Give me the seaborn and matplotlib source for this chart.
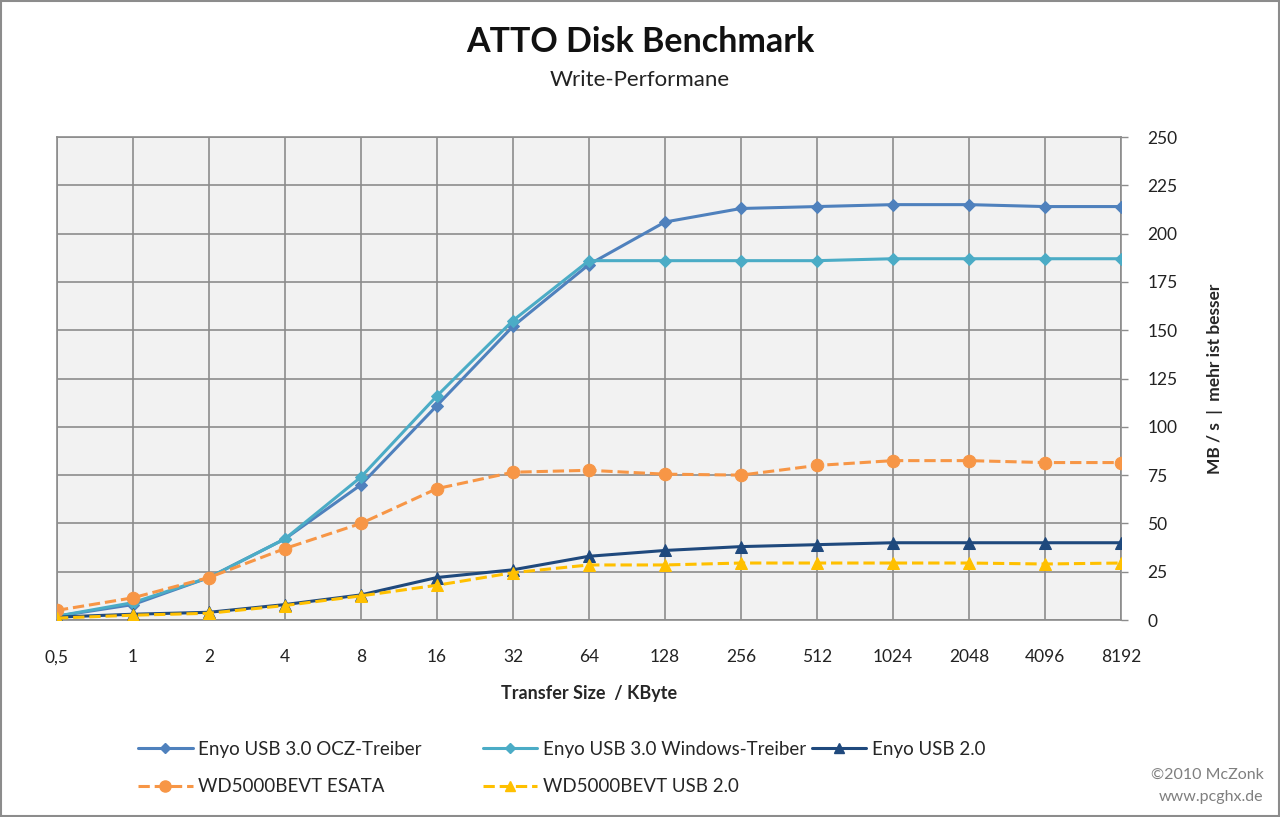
import numpy as np
import pandas as pd
import matplotlib.pyplot as plt
import matplotlib.patches as mpatches
from matplotlib.lines import Line2D
import seaborn as sns

sns.set_theme(style="white")
plt.rcParams['font.family'] = ['Lato', 'DejaVu Sans']

# --- DATEN ---
groessen = ["0,5", "1", "2", "4", "8", "16", "32", "64", "128", "256",
            "512", "1024", "2048", "4096", "8192"]
ocz_treiber = [2, 8, 22, 42, 70, 111, 152, 184, 206, 213, 214, 215, 215, 214, 214]
win_treiber = [2, 9, 22, 42, 74, 116, 155, 186, 186, 186, 186, 187, 187, 187, 187]
enyo_usb2 = [1.5, 3, 4, 8, 13, 22, 26, 33, 36, 38, 39, 40, 40, 40, 40]
wd_esata = [5, 11.5, 22, 37, 50, 68, 76.5, 77.5, 75.5, 75, 80, 82.5, 82.5, 81.5, 81.5]
wd_usb2 = [1, 2.5, 3.5, 7.5, 12.5, 18, 24.5, 28.5, 28.5, 29.5, 29.5, 29.5, 29.5, 29, 29.5]
y_ticks = [0, 25, 50, 75, 100, 125, 150, 175, 200, 225, 250]

pos = np.arange(len(groessen))

serien = [
    ("Enyo USB 3.0 OCZ-Treiber", ocz_treiber, "#4F81BD", "-", "D", 6),
    ("Enyo USB 3.0 Windows-Treiber", win_treiber, "#4BACC6", "-", "D", 6),
    ("Enyo USB 2.0", enyo_usb2, "#1F497D", "-", "^", 8),
    ("WD5000BEVT ESATA", wd_esata, "#F79646", "--", "o", 9),
    ("WD5000BEVT USB 2.0", wd_usb2, "#FFC000", "--", "^", 8),
]

fig = plt.figure(figsize=(12.8, 8.17), dpi=100)
ax = fig.add_axes([0.0445, 0.2411, 0.8312, 0.5912])
ax.set_facecolor("#F2F2F2")

handles = {}
for name, werte, farbe, ls, marker, ms in serien:
    df = pd.DataFrame({"x": pos, "y": werte})
    sns.lineplot(data=df, x="x", y="y", ax=ax, color=farbe, linewidth=2.2,
                 linestyle=ls, marker=marker, markersize=ms,
                 markeredgecolor=farbe, zorder=3)
    handles[name] = Line2D([0], [0], color=farbe, lw=2.2, ls=ls,
                           marker=marker, markersize=ms - 1,
                           markeredgecolor=farbe)

ax.set_xlim(pos[0], pos[-1])
ax.set_ylim(0, 250)
ax.set_xticks(pos)
ax.set_xticklabels(groessen)
ax.set_yticks(y_ticks)
ax.yaxis.tick_right()
ax.yaxis.set_label_position("right")
ax.grid(True, color="#8C8C8C", linewidth=1.2, zorder=0)
ax.set_axisbelow(True)
for s in ax.spines.values():
    s.set_color("#8C8C8C")
    s.set_linewidth(1.2)
ax.tick_params(axis="both", length=5, width=1, color="#8C8C8C",
               labelsize=12.5, labelcolor="#222222")
ax.tick_params(axis="x", pad=16)
ax.tick_params(axis="y", pad=14)

ax.set_xlabel("Transfer Size  / KByte", fontsize=13, fontweight="bold",
              labelpad=14)
ax.set_ylabel("MB / s  |  mehr ist besser", fontsize=12.5, fontweight="bold",
              labelpad=21)

fig.text(0.5, 0.949, "ATTO Disk Benchmark", ha="center", va="center",
         fontsize=24.5, fontweight="bold", color="#111111")
fig.text(0.5, 0.902, "Write-Performane", ha="center", va="center",
         fontsize=16, color="#222222")

# Legende in drei Spalten (wie im Original)
spalten = [
    (0.108, ["Enyo USB 3.0 OCZ-Treiber", "WD5000BEVT ESATA"]),
    (0.377, ["Enyo USB 3.0 Windows-Treiber", "WD5000BEVT USB 2.0"]),
    (0.634, ["Enyo USB 2.0"]),
]
for x0, namen in spalten:
    leg = fig.legend([handles[n] for n in namen], namen, loc="upper left",
                     bbox_to_anchor=(x0, 0.0935), frameon=False,
                     fontsize=13.5, handlelength=2.9, handletextpad=0.3,
                     labelspacing=1.1, borderaxespad=0, borderpad=0)

fig.text(0.987, 0.052, "©2010 McZonk", ha="right", va="center",
         fontsize=11.5, color="#7F7F7F")
fig.text(0.987, 0.025, "www.pcghx.de", ha="right", va="center",
         fontsize=11.5, color="#7F7F7F")

fig.patches.append(mpatches.Rectangle((0.001, 0.001), 0.998, 0.998,
                                      transform=fig.transFigure, fill=False,
                                      edgecolor="#8C8C8C", linewidth=1.5))

plt.savefig("out.png", dpi=100)
plt.close()
